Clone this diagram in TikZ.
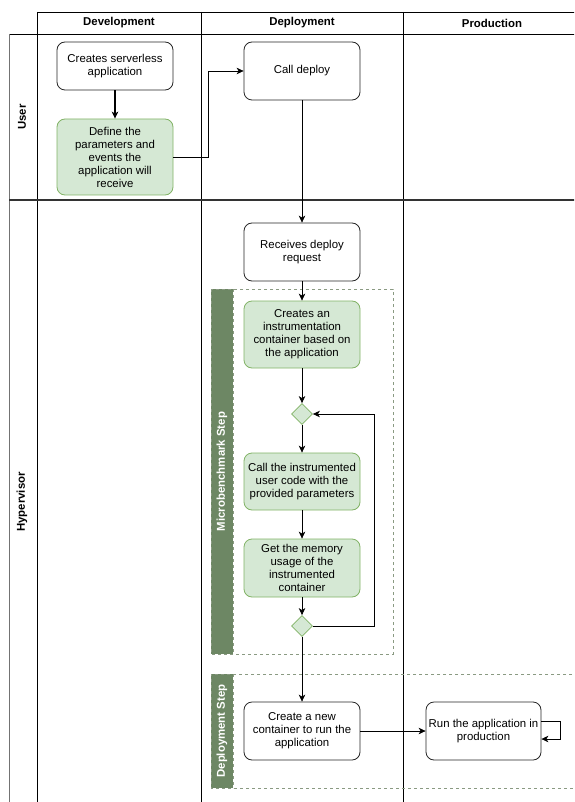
\documentclass[tikz,border=0pt]{standalone}
\usepackage{fontspec}
\setmainfont{Liberation Sans}
\usetikzlibrary{arrows.meta,shapes.geometric}
\definecolor{gfill}{HTML}{D5E8D4}
\definecolor{gline}{HTML}{82B366}
\definecolor{gbar}{HTML}{6D8764}
\definecolor{gdash}{HTML}{8A9A82}
\definecolor{laneline}{HTML}{333333}
\begin{document}
\begin{tikzpicture}[x=1pt,y=-1pt,
  font=\fontsize{11.4}{13}\selectfont,
  box/.style={draw=black!85, rounded corners=8pt, minimum width=116pt, align=center, inner sep=2pt, line width=0.8pt, fill=white},
  gbox/.style={box, fill=gfill, draw=gline},
  dia/.style={diamond, draw=gline, fill=gfill, minimum width=21pt, minimum height=21pt, inner sep=0pt, line width=0.8pt},
  arr/.style={-{Stealth[length=7pt,width=6.5pt,inset=2pt]}, line width=0.7pt, draw=black},
  lanel/.style={draw=black, line width=0.8pt},
  grp/.style={draw=gdash, line width=1pt, dash pattern=on 3pt off 3pt},
  head/.style={font=\fontsize{11.4}{13}\selectfont\bfseries},
  barlabel/.style={font=\fontsize{11.4}{13}\selectfont\bfseries, text=white, rotate=90}]
\useasboundingbox (0,0) rectangle (574,802);
\clip (0,0) rectangle (574,802);
\fill[white] (0,0) rectangle (574,802);

% swimlane frame
\draw[lanel] (37,12) -- (590,12);
\draw[lanel] (9,34) -- (590,34);
\draw[draw=black!55, line width=0.8pt] (9,34) -- (9,802);
\draw[lanel] (37,12) -- (37,802);
\draw[lanel] (201,12) -- (201,802);
\draw[lanel] (403,12) -- (403,802);
\draw[draw=laneline, line width=1.5pt] (9,200) -- (590,200);

\node[head] (hdev) at (119,23) {Development};
\node[head] (hdep) at (302,23) {Deployment};
\node[head] (hprod) at (492,23) {Production};
\node[head, rotate=90] (luser) at (22,117) {User};
\node[head, rotate=90] (lhyp) at (22,502) {Hypervisor};

% groups
\fill[gbar] (211,289) rectangle (233,654);
\draw[grp] (211,289) rectangle (393,654);
\draw[grp] (233,289) -- (233,654);
\node[barlabel] (lmb) at (222,471.5) {Microbenchmark Step};

\fill[gbar] (211,674) rectangle (233,788);
\draw[grp] (590,674) -- (211,674) -- (211,788) -- (590,788);
\draw[grp] (233,674) -- (233,788);
\node[barlabel] (lds) at (222,731) {Deployment Step};

% nodes
\node[box, minimum height=48pt] (cs) at (115,66) {Creates serverless\\application};
\node[gbox, minimum height=76pt] (def) at (115,157) {Define the\\parameters and\\events the\\application will\\receive};
\node[box, minimum height=58pt] (cd) at (302,71) {Call deploy};
\node[box, minimum height=58pt] (rd) at (302,252) {Receives deploy\\request};
\node[gbox, minimum height=67pt] (ci) at (302,334.5) {Creates an\\instrumentation\\container based on\\the application};
\node[dia] (d1) at (302,414) {};
\node[gbox, minimum height=57pt] (ct) at (302,481.5) {Call the instrumented\\user code with the\\provided parameters};
\node[gbox, minimum height=58pt] (gm) at (302,568) {Get the memory\\usage of the\\instrumented\\container};
\node[dia] (d2) at (302,626) {};
\node[box, minimum height=58pt] (nc) at (302,731) {Create a new\\container to run the\\application};
\node[box, minimum height=58pt, minimum width=115pt] (ra) at (483.5,731) {Run the application in\\production};

% connectors
\draw[arr, line width=1.4pt] (cs) -- (def);
\draw[arr] (def.east) -- ++(35,0) |- (cd.west);
\draw[arr] (cd) -- (rd);
\draw[arr] (rd) -- (ci);
\draw[arr] (ci) -- (d1);
\draw[arr] (d1) -- (ct);
\draw[arr] (ct) -- (gm);
\draw[arr] (gm) -- (d2);
\draw[arr] (d2.east) -- ++(61.5,0) |- (d1.east);
\draw[arr] (d2) -- (nc);
\draw[arr] (nc) -- (ra);
\draw[arr] ([yshift=10pt]ra.east) -- ++(19,0) |- ([yshift=-8pt]ra.east);
\end{tikzpicture}
\end{document}
